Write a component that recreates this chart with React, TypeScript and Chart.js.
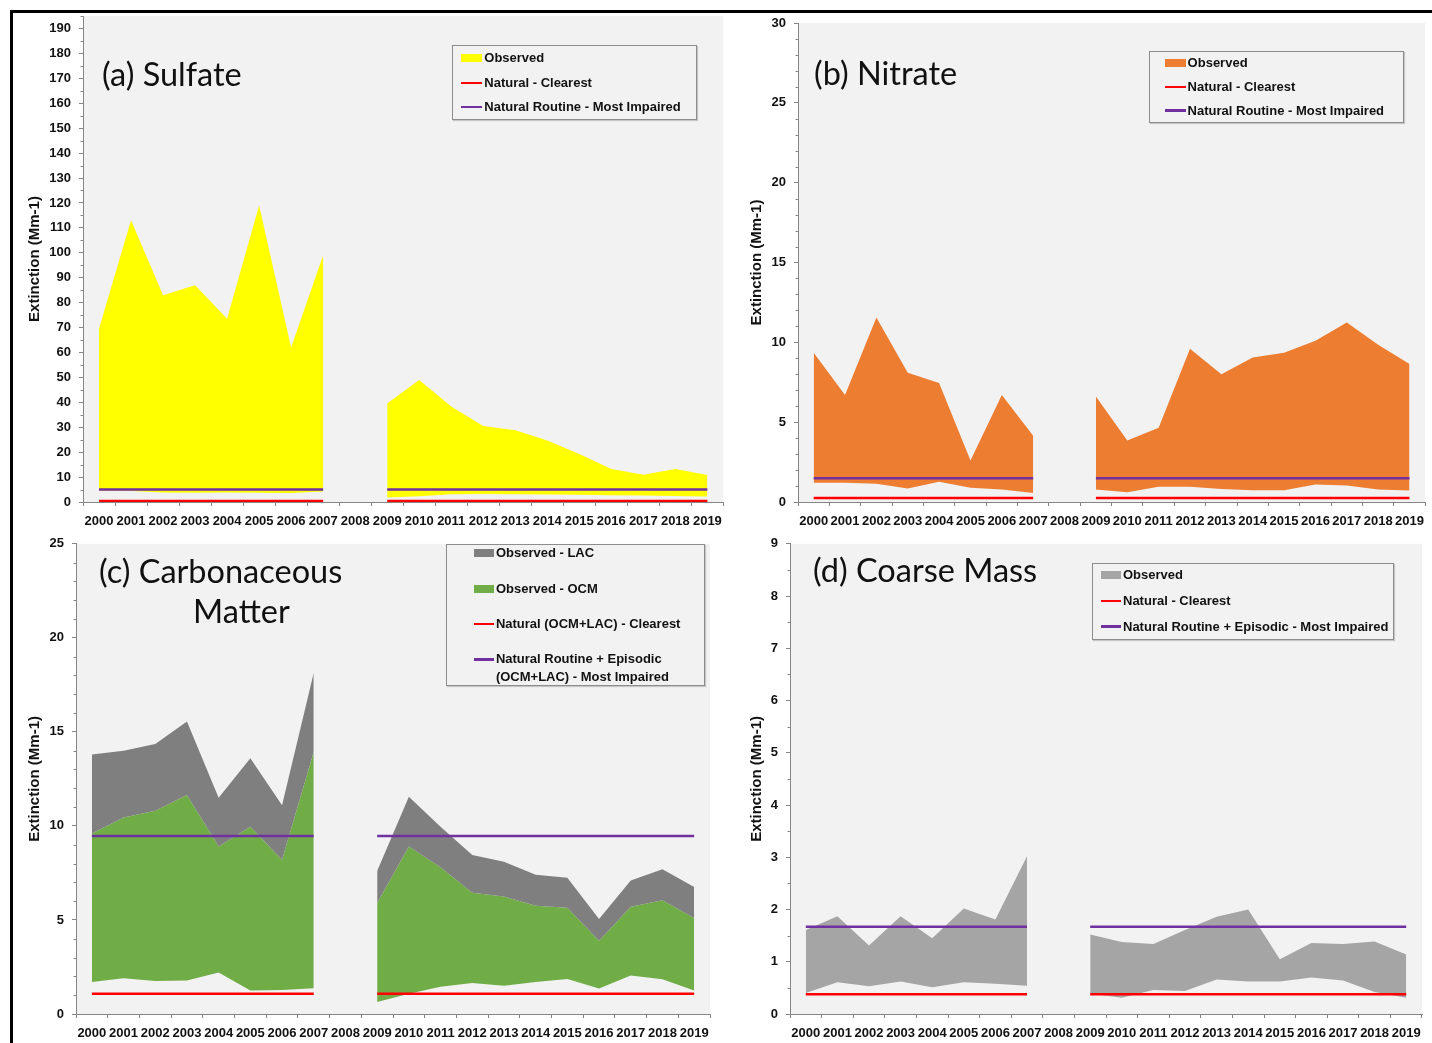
import React, { useEffect, useRef } from 'react';
import { Chart, registerables } from 'chart.js';

Chart.register(...registerables);

// ---------- DATA ----------
const years = ['2000', '2001', '2002', '2003', '2004', '2005', '2006', '2007', '2008', '2009',
  '2010', '2011', '2012', '2013', '2014', '2015', '2016', '2017', '2018', '2019'];

// (a) Sulfate
const sulfateObservedTop = [69.5, 113, 83, 87, 73.5, 119, 62, 99, null, 39.5, 49, 38.3, 30.5, 28.8, 24.7, 19.3, 13.2, 10.9, 13.2, 10.8];
const sulfateObservedBottom = [4.5, 4.4, 3.8, 3.7, 3.8, 3.7, 3.6, 4.2, null, 1.8, 2.3, 3.1, 3.2, 3.1, 3.0, 2.9, 2.7, 2.6, 2.4, 2.2];
const sulfateNaturalClearest = [0.4, 0.4, 0.4, 0.4, 0.4, 0.4, 0.4, 0.4, null, 0.4, 0.4, 0.4, 0.4, 0.4, 0.4, 0.4, 0.4, 0.4, 0.4, 0.4];
const sulfateNaturalImpaired = [5.0, 5.0, 5.0, 5.0, 5.0, 5.0, 5.0, 5.0, null, 5.0, 5.0, 5.0, 5.0, 5.0, 5.0, 5.0, 5.0, 5.0, 5.0, 5.0];

// (b) Nitrate
const nitrateObservedTop = [9.35, 6.7, 11.55, 8.1, 7.45, 2.6, 6.7, 4.15, null, 6.6, 3.85, 4.65, 9.6, 8.0, 9.05, 9.35, 10.1, 11.25, 9.85, 8.65];
const nitrateObservedBottom = [1.2, 1.2, 1.14, 0.85, 1.27, 0.89, 0.78, 0.57, null, 0.78, 0.61, 0.95, 0.95, 0.82, 0.74, 0.74, 1.1, 1.04, 0.78, 0.72];
const nitrateNaturalClearest = [0.25, 0.25, 0.25, 0.25, 0.25, 0.25, 0.25, 0.25, null, 0.25, 0.25, 0.25, 0.25, 0.25, 0.25, 0.25, 0.25, 0.25, 0.25, 0.25];
const nitrateNaturalImpaired = [1.48, 1.48, 1.48, 1.48, 1.48, 1.48, 1.48, 1.48, null, 1.48, 1.48, 1.48, 1.48, 1.48, 1.48, 1.48, 1.48, 1.48, 1.48, 1.48];

// (c) Carbonaceous Matter
const carbonLacTop = [13.8, 14.0, 14.35, 15.55, 11.5, 13.6, 11.1, 18.15, null, 7.6, 11.55, 9.95, 8.45, 8.1, 7.4, 7.25, 5.05, 7.1, 7.7, 6.75];
const carbonOcmTop = [9.6, 10.45, 10.8, 11.65, 8.9, 9.95, 8.2, 13.95, null, 5.9, 8.9, 7.8, 6.45, 6.25, 5.75, 5.65, 3.9, 5.7, 6.05, 5.1];
const carbonOcmBottom = [1.7, 1.9, 1.75, 1.78, 2.2, 1.25, 1.27, 1.37, null, 0.64, 1.08, 1.45, 1.65, 1.5, 1.7, 1.86, 1.35, 2.05, 1.85, 1.25];
const carbonNaturalClearest = [1.08, 1.08, 1.08, 1.08, 1.08, 1.08, 1.08, 1.08, null, 1.08, 1.08, 1.08, 1.08, 1.08, 1.08, 1.08, 1.08, 1.08, 1.08, 1.08];
const carbonNaturalImpaired = [9.46, 9.46, 9.46, 9.46, 9.46, 9.46, 9.46, 9.46, null, 9.46, 9.46, 9.46, 9.46, 9.46, 9.46, 9.46, 9.46, 9.46, 9.46, 9.46];

// (d) Coarse Mass
const coarseObservedTop = [1.61, 1.87, 1.31, 1.87, 1.45, 2.02, 1.81, 3.02, null, 1.52, 1.38, 1.34, 1.61, 1.86, 2.0, 1.05, 1.36, 1.34, 1.39, 1.14];
const coarseObservedBottom = [0.4, 0.61, 0.53, 0.62, 0.51, 0.61, 0.58, 0.54, null, 0.39, 0.31, 0.46, 0.44, 0.66, 0.62, 0.62, 0.7, 0.64, 0.42, 0.31];
const coarseNaturalClearest = [0.38, 0.38, 0.38, 0.38, 0.38, 0.38, 0.38, 0.38, null, 0.38, 0.38, 0.38, 0.38, 0.38, 0.38, 0.38, 0.38, 0.38, 0.38, 0.38];
const coarseNaturalImpaired = [1.67, 1.67, 1.67, 1.67, 1.67, 1.67, 1.67, 1.67, null, 1.67, 1.67, 1.67, 1.67, 1.67, 1.67, 1.67, 1.67, 1.67, 1.67, 1.67];

// ---------- STYLE ----------
const RED = '#ff0000';
const PURPLE = '#7030a0';
const YELLOW = '#ffff00';
const ORANGE = '#ed7d31';
const GREEN = '#70ad47';
const LAC_GREY = '#7f7f7f';
const COARSE_GREY = '#a5a5a5';
const PLOT_BG = '#f2f2f2';
const AXIS = '#868686';
const TXT = '#111111';
const SANS = '"Liberation Sans", Arial, sans-serif';
const TITLE_FONT = 'Lato, "Open Sans", sans-serif';
const TITLE_SIZE = 32.5;

const lineDs = (label: string, data: (number | null)[], color: string) => ({
  label, data, borderColor: color, backgroundColor: color, borderWidth: 2.5,
  pointRadius: 0, pointHoverRadius: 0, fill: false, order: 0, spanGaps: false,
});
const baseDs = (data: (number | null)[]) => ({
  label: '', data, borderColor: 'rgba(0,0,0,0)', backgroundColor: 'rgba(0,0,0,0)', borderWidth: 0,
  pointRadius: 0, pointHoverRadius: 0, fill: false, order: 5, spanGaps: false,
});
const areaDs = (label: string, data: (number | null)[], color: string, order: number) => ({
  label, data, borderColor: 'rgba(0,0,0,0)', backgroundColor: color, borderWidth: 0,
  pointRadius: 0, pointHoverRadius: 0, fill: '-1', order, spanGaps: false,
});

type LegendRow = { label: string[]; kind: 'box' | 'line'; color: string; y: number };
type Spec = {
  key: string;
  left: number; top: number; width: number; height: number;
  padding: { left: number; right: number; top: number; bottom: number };
  yWidth: number; xHeight: number; titlePad: number;
  yMax: number; yStep: number; yMinor: number;
  datasets: any[];
  titles: { text: string; x: number; baseline: number }[];
  legend: { x: number; y: number; w: number; h: number; symX: number; symW: number; textX: number; rows: LegendRow[] };
};

const specs: Spec[] = [
  {
    key: 'a', left: 0, top: 0, width: 730, height: 530,
    padding: { left: 0, right: 6, top: 16, bottom: 4 },
    yWidth: 83, xHeight: 24, titlePad: 26,
    yMax: 195, yStep: 10, yMinor: 5,
    datasets: [
      lineDs('Natural - Clearest', sulfateNaturalClearest, RED),
      lineDs('Natural Routine - Most Impaired', sulfateNaturalImpaired, PURPLE),
      baseDs(sulfateObservedBottom),
      areaDs('Observed', sulfateObservedTop, YELLOW, 1),
    ],
    titles: [{ text: '(a) Sulfate', x: 102, baseline: 86.7 }],
    legend: {
      x: 451.7, y: 45, w: 245, h: 75.3, symX: 460.7, symW: 21.5, textX: 484.3,
      rows: [
        { label: ['Observed'], kind: 'box', color: YELLOW, y: 58 },
        { label: ['Natural - Clearest'], kind: 'line', color: RED, y: 83 },
        { label: ['Natural Routine - Most Impaired'], kind: 'line', color: PURPLE, y: 107 },
      ],
    },
  },
  {
    key: 'b', left: 720, top: 0, width: 712, height: 530,
    padding: { left: 0, right: 1, top: 23, bottom: 4 },
    yWidth: 78, xHeight: 24, titlePad: 28,
    yMax: 30, yStep: 5, yMinor: 1,
    datasets: [
      lineDs('Natural - Clearest', nitrateNaturalClearest, RED),
      lineDs('Natural Routine - Most Impaired', nitrateNaturalImpaired, PURPLE),
      baseDs(nitrateObservedBottom),
      areaDs('Observed', nitrateObservedTop, ORANGE, 1),
    ],
    titles: [{ text: '(b) Nitrate', x: 814, baseline: 86 }],
    legend: {
      x: 1149, y: 50.7, w: 255, h: 72, symX: 1165, symW: 20.5, textX: 1187.6,
      rows: [
        { label: ['Observed'], kind: 'box', color: ORANGE, y: 63.2 },
        { label: ['Natural - Clearest'], kind: 'line', color: RED, y: 86.9 },
        { label: ['Natural Routine - Most Impaired'], kind: 'line', color: PURPLE, y: 110.5 },
      ],
    },
  },
  {
    key: 'c', left: 0, top: 528, width: 730, height: 515,
    padding: { left: 0, right: 20, top: 7, bottom: 5 },
    yWidth: 76, xHeight: 24, titlePad: 26,
    yMax: 25, yStep: 5, yMinor: 1,
    datasets: [
      lineDs('Natural (OCM+LAC) - Clearest', carbonNaturalClearest, RED),
      lineDs('Natural Routine + Episodic (OCM+LAC) - Most Impaired', carbonNaturalImpaired, PURPLE),
      baseDs(carbonOcmBottom),
      areaDs('Observed - OCM', carbonOcmTop, GREEN, 2),
      areaDs('Observed - LAC', carbonLacTop, LAC_GREY, 1),
    ],
    titles: [
      { text: '(c) Carbonaceous', x: 99, baseline: 584 },
      { text: 'Matter', x: 193, baseline: 624 },
    ],
    legend: {
      x: 446, y: 544.3, w: 258.5, h: 141.7, symX: 474, symW: 19.5, textX: 495.9,
      rows: [
        { label: ['Observed - LAC'], kind: 'box', color: LAC_GREY, y: 553.4 },
        { label: ['Observed - OCM'], kind: 'box', color: GREEN, y: 589 },
        { label: ['Natural (OCM+LAC) - Clearest'], kind: 'line', color: RED, y: 624 },
        { label: ['Natural Routine + Episodic', '(OCM+LAC) - Most Impaired'], kind: 'line', color: PURPLE, y: 659.4 },
      ],
    },
  },
  {
    key: 'd', left: 720, top: 528, width: 712, height: 515,
    padding: { left: 0, right: 10, top: 7, bottom: 5 },
    yWidth: 70, xHeight: 24, titlePad: 28,
    yMax: 9, yStep: 1, yMinor: 0.5,
    datasets: [
      lineDs('Natural - Clearest', coarseNaturalClearest, RED),
      lineDs('Natural Routine + Episodic - Most Impaired', coarseNaturalImpaired, PURPLE),
      baseDs(coarseObservedBottom),
      areaDs('Observed', coarseObservedTop, COARSE_GREY, 1),
    ],
    titles: [{ text: '(d) Coarse Mass', x: 813, baseline: 582.5 }],
    legend: {
      x: 1092.3, y: 562.7, w: 302, h: 77.3, symX: 1100.5, symW: 20, textX: 1123,
      rows: [
        { label: ['Observed'], kind: 'box', color: COARSE_GREY, y: 575 },
        { label: ['Natural - Clearest'], kind: 'line', color: RED, y: 601 },
        { label: ['Natural Routine + Episodic - Most Impaired'], kind: 'line', color: PURPLE, y: 626.7 },
      ],
    },
  },
];

// ---------- PLUGINS ----------
const plotBgPlugin = {
  id: 'plotBg',
  beforeDraw(chart: any) {
    const { ctx, chartArea: a } = chart;
    ctx.save();
    ctx.fillStyle = PLOT_BG;
    ctx.fillRect(a.left, a.top, a.right - a.left, a.bottom - a.top);
    ctx.restore();
  },
};

const minorTicksPlugin = (minor: number, major: number) => ({
  id: 'minorTicks',
  afterDraw(chart: any) {
    const y = chart.scales.y;
    const ctx = chart.ctx;
    ctx.save();
    ctx.strokeStyle = AXIS;
    ctx.lineWidth = 1;
    const n = Math.round(y.max / minor);
    for (let i = 0; i <= n; i++) {
      const v = i * minor;
      const r = v / major;
      if (Math.abs(r - Math.round(r)) < 1e-6) continue;
      const py = Math.round(y.getPixelForValue(v)) + 0.5;
      ctx.beginPath();
      ctx.moveTo(y.right - 2.5, py);
      ctx.lineTo(y.right, py);
      ctx.stroke();
    }
    ctx.restore();
  },
});

function PanelChart({ spec }: { spec: Spec }) {
  const ref = useRef<HTMLCanvasElement>(null);
  useEffect(() => {
    const tickFont = { family: SANS, size: 13, weight: 'bold' as const };
    const chart = new Chart(ref.current as HTMLCanvasElement, {
      type: 'line',
      data: { labels: years, datasets: spec.datasets },
      options: {
        animation: false,
        responsive: false,
        maintainAspectRatio: false,
        layout: { padding: spec.padding },
        elements: { line: { tension: 0 }, point: { radius: 0 } },
        plugins: {
          legend: { display: false },
          tooltip: { enabled: false },
          title: { display: false },
        },
        scales: {
          x: {
            type: 'category',
            offset: true,
            grid: { offset: true, drawOnChartArea: false, drawTicks: true, tickLength: 4, color: AXIS },
            border: { display: true, color: AXIS, width: 1 },
            ticks: { autoSkip: false, maxRotation: 0, minRotation: 0, padding: 8, color: TXT, font: tickFont },
            afterFit: (s: any) => { s.height = spec.xHeight; },
          },
          y: {
            type: 'linear',
            min: 0,
            max: spec.yMax,
            grid: { drawOnChartArea: false, drawTicks: true, tickLength: 4, color: AXIS },
            border: { display: true, color: AXIS, width: 1 },
            ticks: { stepSize: spec.yStep, includeBounds: false, padding: 8, color: TXT, font: tickFont },
            title: {
              display: true,
              text: 'Extinction (Mm-1)',
              color: TXT,
              font: { family: SANS, size: 15, weight: 'bold' },
              padding: { top: spec.titlePad, bottom: 0 },
            },
            afterFit: (s: any) => { s.width = spec.yWidth; },
          },
        },
      } as any,
      plugins: [plotBgPlugin, minorTicksPlugin(spec.yMinor, spec.yStep)],
    });
    return () => chart.destroy();
  }, [spec]);
  return (
    <canvas
      ref={ref}
      width={spec.width}
      height={spec.height}
      style={{ position: 'absolute', left: spec.left, top: spec.top, width: spec.width, height: spec.height }}
    />
  );
}

function Legend({ spec }: { spec: Spec }) {
  const L = spec.legend;
  return (
    <>
      <div
        style={{
          position: 'absolute', left: L.x, top: L.y, width: L.w, height: L.h, boxSizing: 'border-box',
          border: '1.5px solid #8c8c8c', boxShadow: '1px 1px 1px rgba(0,0,0,0.18)',
        }}
      />
      {L.rows.map((r, i) => (
        <React.Fragment key={i}>
          {r.kind === 'box' ? (
            <div style={{ position: 'absolute', left: L.symX, top: r.y - 4, width: L.symW, height: 8, background: r.color }} />
          ) : (
            <div style={{ position: 'absolute', left: L.symX, top: r.y - 1.25, width: L.symW, height: 2.5, background: r.color }} />
          )}
          {r.label.map((t, j) => (
            <div
              key={j}
              style={{
                position: 'absolute', left: L.textX, top: r.y - 8 + j * 18, height: 16, lineHeight: '16px',
                fontFamily: SANS, fontWeight: 'bold', fontSize: 13, color: TXT, whiteSpace: 'nowrap',
              }}
            >
              {t}
            </div>
          ))}
        </React.Fragment>
      ))}
    </>
  );
}

function Titles({ spec }: { spec: Spec }) {
  return (
    <>
      {spec.titles.map((t, i) => (
        <div
          key={i}
          style={{
            position: 'absolute', left: t.x, top: t.baseline - 0.887 * TITLE_SIZE, height: TITLE_SIZE,
            lineHeight: TITLE_SIZE + 'px', fontFamily: TITLE_FONT, fontSize: TITLE_SIZE, color: '#111',
            whiteSpace: 'nowrap',
          }}
        >
          {t.text}
        </div>
      ))}
    </>
  );
}

export default function App() {
  return (
    <div style={{ position: 'absolute', left: 0, top: 0, width: 1432, height: 1043, overflow: 'hidden', background: '#ffffff' }}>
      <div
        style={{
          position: 'absolute', left: 10, top: 10, width: 1422, height: 1033, boxSizing: 'border-box',
          borderTop: '3px solid #000', borderLeft: '3px solid #000',
        }}
      />
      {specs.map((s) => (
        <PanelChart key={s.key} spec={s} />
      ))}
      {specs.map((s) => (
        <React.Fragment key={'o' + s.key}>
          <Titles spec={s} />
          <Legend spec={s} />
        </React.Fragment>
      ))}
    </div>
  );
}
